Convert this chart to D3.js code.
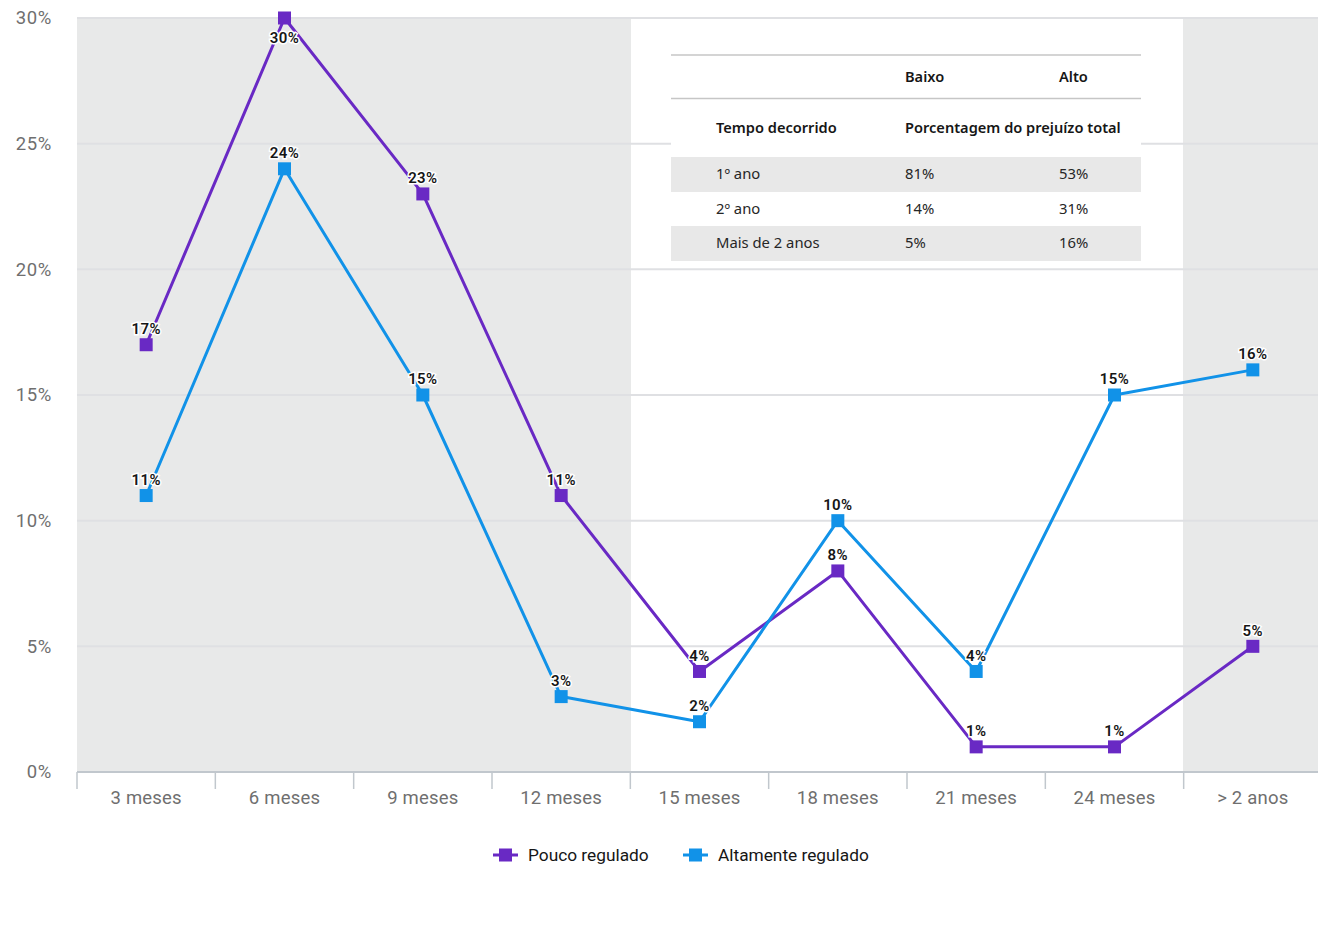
<!DOCTYPE html>
<html><head><meta charset="utf-8">
<script src="https://cdn.jsdelivr.net/npm/d3@7"></script>
<style>
body{margin:0;background:#fff;}
svg{display:block;}
</style></head>
<body><svg id="c" width="1318" height="945"></svg>
<script>
const categories = ["3 meses","6 meses","9 meses","12 meses","15 meses","18 meses","21 meses","24 meses","> 2 anos"];
const poucoRegulado = [17,30,23,11,4,8,1,1,5];
const altamenteRegulado = [11,24,15,3,2,10,4,15,16];
const yTicks = [0,5,10,15,20,25,30];
const seriesNames = ["Pouco regulado","Altamente regulado"];
const seriesColors = ["#6929c4","#1192e8"];
const shadedCategories = ["3 meses","6 meses","9 meses","12 meses","> 2 anos"];
const tableHeader = ["","Baixo","Alto"];
const tableSubHeader = ["Tempo decorrido","Porcentagem do prejuízo total",""];
const tableRows = [["1º ano","81%","53%"],["2º ano","14%","31%"],["Mais de 2 anos","5%","16%"]];

(function(){
const svg = d3.select("#c");
const pLeft = 77, pRight = 1322, pTop = 18, pBottom = 772;
const x = d3.scaleBand().domain(categories).range([pLeft, pRight]).padding(0);
const y = d3.scaleLinear().domain([0,30]).range([pBottom, pTop]);
const font = "Roboto, 'Noto Sans', sans-serif";

// shaded bands
svg.append("g").attr("shape-rendering","crispEdges").selectAll("rect").data(shadedCategories).join("rect")
  .attr("x", d => x(d) - 0.5).attr("y", pTop).attr("width", x.bandwidth() + 1).attr("height", pBottom - pTop)
  .attr("fill", "#e8e9e9");

// gridlines
svg.append("g").selectAll("line").data(yTicks.filter(d => d > 0)).join("line")
  .attr("x1", pLeft).attr("x2", 1318).attr("y1", d => y(d)).attr("y2", d => y(d))
  .attr("stroke", "#dfe0e3").attr("stroke-width", 2);

// y labels
svg.append("g").selectAll("text").data(yTicks).join("text")
  .attr("x", 52).attr("y", d => y(d)).attr("dy", "0.35em").attr("text-anchor", "end")
  .attr("font-family", font).attr("font-size", 18.5).attr("letter-spacing", 0.6).attr("fill", "#6f6f6f")
  .text(d => d + "%");

// x axis
const xa = svg.append("g");
xa.append("line").attr("x1", pLeft).attr("x2", 1318).attr("y1", pBottom).attr("y2", pBottom)
  .attr("stroke", "#c1c7cd").attr("stroke-width", 2);
xa.selectAll("line.t").data(categories).join("line").attr("class","t")
  .attr("x1", d => x(d)).attr("x2", d => x(d)).attr("y1", pBottom).attr("y2", 789)
  .attr("stroke", "#c1c7cd").attr("stroke-width", 1.5);
xa.selectAll("text").data(categories).join("text")
  .attr("x", d => x(d) + x.bandwidth()/2).attr("y", 798).attr("dy","0.35em")
  .attr("text-anchor","middle").attr("font-family", font).attr("font-size", 18.5).attr("letter-spacing", 0.2).attr("fill","#6f6f6f")
  .text(d => d);

// table
const tb = svg.append("g");
const tx0 = 671, tx1 = 1141;
tb.append("rect").attr("x", tx0).attr("y", 55).attr("width", tx1 - tx0).attr("height", 206).attr("fill", "#fff");
const colX = [716, 905, 1059];
tb.append("line").attr("x1",tx0).attr("x2",tx1).attr("y1",55).attr("y2",55).attr("stroke","#c6c6c6").attr("stroke-width",1.5);
tb.append("line").attr("x1",tx0).attr("x2",tx1).attr("y1",98.5).attr("y2",98.5).attr("stroke","#c6c6c6").attr("stroke-width",1.5);
const tf = "'Noto Sans', sans-serif";
tb.selectAll("text.h").data(tableHeader).join("text").attr("class","h")
  .attr("x",(d,i)=>colX[i]).attr("y",77).attr("dy","0.35em")
  .attr("font-family",tf).attr("font-size",14.6).attr("font-weight",600).attr("fill","#161616").text(d=>d);
tb.selectAll("text.s").data(tableSubHeader).join("text").attr("class","s")
  .attr("x",(d,i)=>colX[i]).attr("y",128).attr("dy","0.35em")
  .attr("font-family",tf).attr("font-size",14.6).attr("font-weight",600).attr("fill","#161616").text(d=>d);
const rowY = [157, 191.5, 226];
tableRows.forEach((r, i) => {
  if (i % 2 === 0) tb.append("rect").attr("x",tx0).attr("y",rowY[i]).attr("width",tx1-tx0).attr("height",35).attr("fill","#e8e8e8");
  tb.selectAll("text.r"+i).data(r).join("text").attr("class","r"+i)
    .attr("x",(d,j)=>colX[j]).attr("y",rowY[i]+17).attr("dy","0.35em")
    .attr("font-family",tf).attr("font-size",14.8).attr("fill","#262626").text(d=>d);
});

// lines
const series = [poucoRegulado, altamenteRegulado];
const cx = c => x(c) + x.bandwidth()/2;
const line = d3.line().x((d,i) => cx(categories[i])).y(d => y(d));
series.forEach((s, k) => {
  svg.append("path").datum(s).attr("d", line).attr("fill","none")
    .attr("stroke", seriesColors[k]).attr("stroke-width", 3).attr("stroke-linejoin","round");
});
series.forEach((s, k) => {
  svg.append("g").selectAll("rect").data(s).join("rect")
    .attr("x",(d,i)=>cx(categories[i])-6.5).attr("y",d=>y(d)-6.5).attr("width",13).attr("height",13)
    .attr("fill", seriesColors[k]);
});
// labels
series.forEach((s, k) => {
  svg.append("g").selectAll("text").data(s).join("text")
    .attr("x",(d,i)=>cx(categories[i])).attr("y",d => d === 30 ? y(d)+20 : y(d)-16).attr("dy","0.35em")
    .attr("text-anchor","middle").attr("font-family", font).attr("font-size",15).attr("font-weight",600)
    .attr("letter-spacing",0.4)
    .attr("fill","#161616").attr("stroke","#fff").attr("stroke-width",3).attr("paint-order","stroke")
    .text(d => d + "%");
});

// legend
const lg = svg.append("g");
const lx = [493, 683];
seriesNames.forEach((n, k) => {
  lg.append("line").attr("x1",lx[k]).attr("x2",lx[k]+25).attr("y1",855).attr("y2",855).attr("stroke",seriesColors[k]).attr("stroke-width",3);
  lg.append("rect").attr("x",lx[k]+6).attr("y",848.5).attr("width",13).attr("height",13).attr("fill",seriesColors[k]);
  lg.append("text").attr("x",lx[k]+35).attr("y",855).attr("dy","0.35em").attr("font-family",font).attr("font-size",17.3)
    .attr("fill","#161616").text(n);
});
})();
</script></body></html>
